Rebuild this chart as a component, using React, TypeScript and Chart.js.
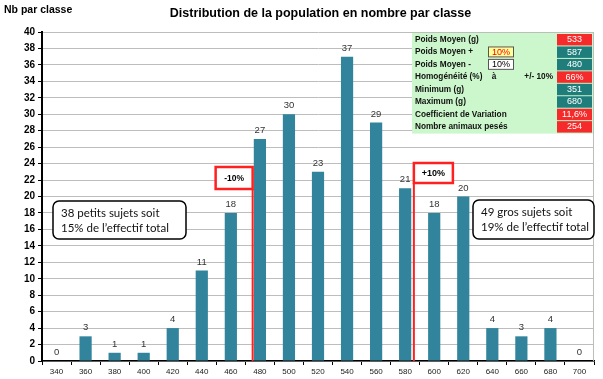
import React, { useEffect, useRef } from 'react';
import { Chart, registerables } from 'chart.js';

Chart.register(...registerables);

// ---- Data ----
const classes = ['340', '360', '380', '400', '420', '440', '460', '480', '500', '520', '540', '560', '580', '600', '620', '640', '660', '680', '700'];
const counts = [0, 3, 1, 1, 4, 11, 18, 27, 30, 23, 37, 29, 21, 18, 20, 4, 3, 4, 0];
const classStart = 340;
const classStep = 20;
const yMin = 0;
const yMax = 40;
const yStep = 2;

const limitWeights = [475, 586];
const limitLabels = ['-10%', '+10%'];

const noteLeft = ['38 petits sujets soit', '15% de l’effectif total'];
const noteRight = ['49 gros sujets soit', '19% de l’effectif total'];

const tableLabels = ['Poids Moyen (g)', 'Poids Moyen +', 'Poids Moyen -', 'Homogénéité (%)', 'Minimum (g)', 'Maximum (g)', 'Coefficient de Variation', 'Nombre animaux pesés'];
const tableValues = ['533', '587', '480', '66%', '351', '680', '11,6%', '254'];
const tableKinds = ['red', 'teal', 'teal', 'red', 'teal', 'teal', 'red', 'red'];
const tableInputs = ['', '10%', '10%', '', '', '', '', ''];

const titleText = 'Distribution de la population en nombre par classe';
const yTitleText = 'Nb par classe';

const BAR_COLOR = '#31849b';
const RED = '#ff2020';
const TEAL = '#1f7e7b';
const CELL_RED = '#f52a2a';

function roundRect(ctx: CanvasRenderingContext2D, x: number, y: number, w: number, h: number, r: number) {
  ctx.beginPath();
  ctx.moveTo(x + r, y);
  ctx.lineTo(x + w - r, y);
  ctx.arcTo(x + w, y, x + w, y + r, r);
  ctx.lineTo(x + w, y + h - r);
  ctx.arcTo(x + w, y + h, x + w - r, y + h, r);
  ctx.lineTo(x + r, y + h);
  ctx.arcTo(x, y + h, x, y + h - r, r);
  ctx.lineTo(x, y + r);
  ctx.arcTo(x, y, x + r, y, r);
  ctx.closePath();
}

const overlayPlugin = {
  id: 'overlay',
  afterDatasetsDraw(chart: any) {
    const ctx: CanvasRenderingContext2D = chart.ctx;
    const meta = chart.getDatasetMeta(0);
    ctx.save();
    ctx.font = '9.5px "Liberation Sans", Arial, sans-serif';
    ctx.fillStyle = '#333';
    ctx.textAlign = 'center';
    ctx.textBaseline = 'middle';
    meta.data.forEach((bar: any, i: number) => {
      ctx.fillText(String(counts[i]), bar.x, bar.y - 8.5);
    });
    ctx.restore();
  },
  afterDraw(chart: any) {
    const ctx: CanvasRenderingContext2D = chart.ctx;
    const area = chart.chartArea;
    const xs = chart.scales.x;
    ctx.save();

    // right border of plot
    ctx.strokeStyle = '#bdbdbd';
    ctx.lineWidth = 1;
    ctx.beginPath();
    ctx.moveTo(area.right - 0.5, area.top);
    ctx.lineTo(area.right - 0.5, area.bottom);
    ctx.stroke();

    // titles
    ctx.fillStyle = '#000';
    ctx.textBaseline = 'alphabetic';
    ctx.textAlign = 'center';
    ctx.font = 'bold 12.5px "Liberation Sans", Arial, sans-serif';
    ctx.fillText(titleText, 320.5, 17);
    ctx.textAlign = 'left';
    ctx.font = 'bold 10.5px "Liberation Sans", Arial, sans-serif';
    ctx.fillText(yTitleText, 4, 13);

    // limit lines with labels
    limitWeights.forEach((w, k) => {
      const x = xs.getPixelForValue((w - classStart) / classStep);
      const left = k === 0;
      const boxW = left ? 37 : 39;
      const boxTop = left ? 167 : 163;
      const boxH = left ? 22 : 20;
      const bx = left ? x - boxW : x;
      ctx.strokeStyle = RED;
      ctx.lineWidth = 2;
      ctx.beginPath();
      ctx.moveTo(x, area.bottom);
      ctx.lineTo(x, boxTop + boxH);
      ctx.stroke();
      ctx.fillStyle = '#fff';
      ctx.fillRect(bx, boxTop, boxW, boxH);
      ctx.lineWidth = 2.5;
      ctx.strokeRect(bx, boxTop, boxW, boxH);
      ctx.fillStyle = '#000';
      ctx.font = (left ? 'bold 8.5px' : 'bold 9px') + ' "Liberation Sans", Arial, sans-serif';
      ctx.textAlign = 'center';
      ctx.textBaseline = 'middle';
      ctx.fillText(limitLabels[k], bx + boxW / 2, boxTop + boxH / 2 + 0.5);
    });

    // notes
    const drawNote = (lines: string[], x: number, y: number, w: number, h: number) => {
      roundRect(ctx, x, y, w, h, 6);
      ctx.fillStyle = '#fff';
      ctx.fill();
      ctx.strokeStyle = '#000';
      ctx.lineWidth = 1.5;
      ctx.stroke();
      ctx.fillStyle = '#111';
      ctx.font = '11.5px Lato, "Open Sans", sans-serif';
      ctx.textAlign = 'left';
      ctx.textBaseline = 'middle';
      lines.forEach((t, i) => ctx.fillText(t, x + 8, y + 12 + i * 15));
    };
    drawNote(noteLeft, 53, 201, 133, 38);
    drawNote(noteRight, 473, 200, 121, 39);

    // table
    const tx0 = 412;
    const tx1 = 593;
    const ty0 = 33;
    const rowH = 12.45;
    const nRows = tableLabels.length;
    ctx.fillStyle = '#ccf7cc';
    ctx.fillRect(tx0, ty0, tx1 - tx0, rowH * nRows + 1);
    const vx0 = 557;
    const vx1 = 592;
    tableLabels.forEach((lab, i) => {
      const top = ty0 + i * rowH;
      const cy = top + rowH / 2 + 0.5;
      ctx.fillStyle = tableKinds[i] === 'red' ? CELL_RED : TEAL;
      ctx.fillRect(vx0, top + 1, vx1 - vx0, rowH - 1);
      ctx.fillStyle = '#fff';
      ctx.font = '9px "Liberation Sans", Arial, sans-serif';
      ctx.textAlign = 'center';
      ctx.textBaseline = 'middle';
      ctx.fillText(tableValues[i], (vx0 + vx1) / 2, cy);
      ctx.fillStyle = '#111';
      ctx.font = 'bold 8.25px "Liberation Sans", Arial, sans-serif';
      ctx.textAlign = 'left';
      ctx.fillText(lab, 415, cy);
      if (tableInputs[i]) {
        const bx = 488;
        const bw = 26;
        const by = top + 1;
        const bh = rowH - 1.5;
        ctx.fillStyle = i === 1 ? '#ffff99' : '#ffffff';
        ctx.fillRect(bx, by, bw, bh);
        ctx.strokeStyle = '#555';
        ctx.lineWidth = 1;
        ctx.strokeRect(bx + 0.5, by + 0.5, bw - 1, bh - 1);
        ctx.fillStyle = i === 1 ? '#ff0000' : '#000';
        ctx.font = '9px "Liberation Sans", Arial, sans-serif';
        ctx.textAlign = 'center';
        ctx.fillText(tableInputs[i], bx + bw / 2, cy);
      }
      if (i === 3) {
        ctx.fillStyle = '#111';
        ctx.font = 'bold 8.25px "Liberation Sans", Arial, sans-serif';
        ctx.textAlign = 'center';
        ctx.fillText('à', 494, cy);
        ctx.textAlign = 'right';
        ctx.fillText('+/- 10%', 553, cy);
      }
    });

    ctx.restore();
  },
};

export default function App() {
  const ref = useRef<HTMLCanvasElement | null>(null);

  useEffect(() => {
    if (!ref.current) return;
    const chart = new Chart(ref.current, {
      type: 'bar',
      data: {
        labels: classes,
        datasets: [
          {
            data: counts,
            backgroundColor: BAR_COLOR,
            borderWidth: 0,
            barPercentage: 0.42,
            categoryPercentage: 1,
          },
        ],
      },
      options: {
        animation: false,
        responsive: false,
        maintainAspectRatio: false,
        layout: { padding: { top: 32, left: 0, right: 9, bottom: 0 } },
        plugins: {
          legend: { display: false },
          title: { display: false },
          tooltip: { enabled: false },
        },
        scales: {
          x: {
            afterFit: (s: any) => {
              s.height = 18;
            },
            grid: {
              display: true,
              drawOnChartArea: false,
              offset: true,
              tickLength: 4,
              tickColor: '#000',
            },
            border: { color: '#000', width: 1.5 },
            ticks: {
              autoSkip: false,
              maxRotation: 0,
              padding: 1.5,
              color: '#1a1a1a',
              font: { family: '"Liberation Sans", Arial, sans-serif', size: 8 },
            },
          },
          y: {
            min: yMin,
            max: yMax,
            afterFit: (s: any) => {
              s.width = 42;
            },
            grid: {
              color: '#bdbdbd',
              lineWidth: 1,
              tickLength: 4,
              tickColor: '#000',
            },
            border: { color: '#000', width: 2 },
            ticks: {
              stepSize: yStep,
              padding: 3,
              color: '#000',
              font: { family: '"Liberation Sans", Arial, sans-serif', size: 10, weight: 'bold' },
            },
          },
        },
      },
      plugins: [overlayPlugin],
    });
    return () => chart.destroy();
  }, []);

  return (
    <div style={{ position: 'absolute', left: 0, top: 0, width: 603, height: 379, background: '#fff' }}>
      <canvas ref={ref} width={603} height={379} style={{ display: 'block' }} />
    </div>
  );
}
